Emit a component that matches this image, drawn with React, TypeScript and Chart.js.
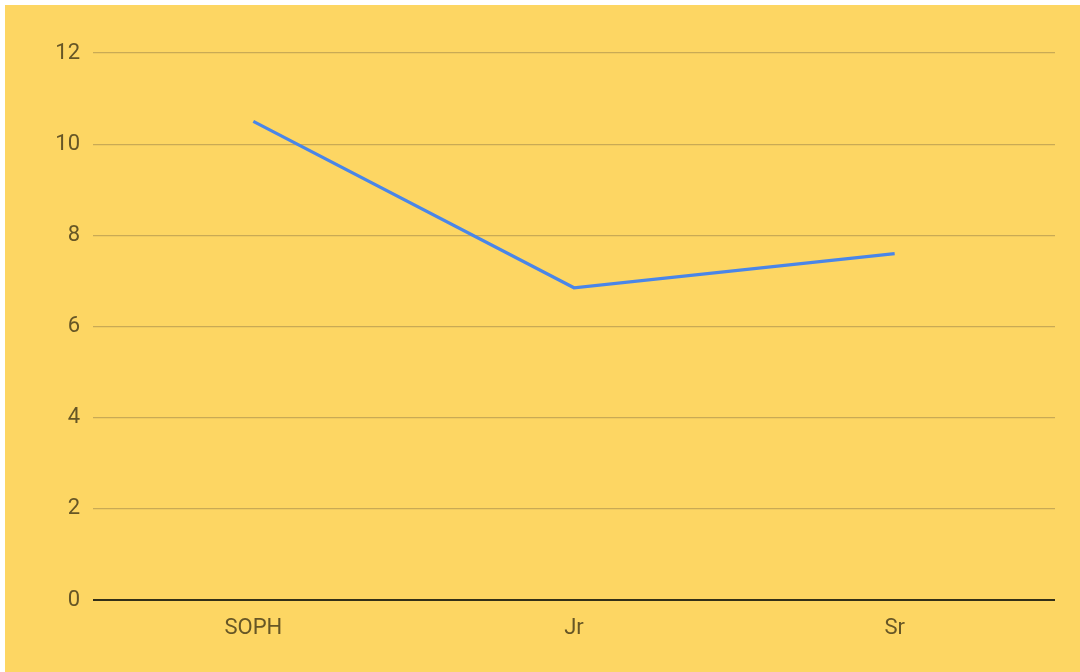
import React, { useEffect, useRef } from "react";
import { Chart, registerables } from "chart.js";

Chart.register(...registerables);

const categories = ["SOPH", "Jr", "Sr"];
const values = [10.5, 6.85, 7.6];
const yTicks = [0, 2, 4, 6, 8, 10, 12];

const bgPlugin = {
  id: "bgFill",
  beforeDraw(chart: any) {
    const { ctx, width, height } = chart;
    ctx.save();
    ctx.fillStyle = "#FDD663";
    ctx.fillRect(0, 0, width, height);
    ctx.restore();
  },
};

export default function App() {
  const ref = useRef<HTMLCanvasElement>(null);
  useEffect(() => {
    document.body.style.margin = "0";
    const chart = new Chart(ref.current!, {
      type: "line",
      data: {
        labels: categories,
        datasets: [
          {
            data: values,
            borderColor: "#4A86E8",
            borderWidth: 3.2,
            pointRadius: 0,
            tension: 0,
            fill: false,
          },
        ],
      },
      options: {
        animation: false,
        responsive: false,
        maintainAspectRatio: false,
        layout: { padding: { top: 48, right: 25, bottom: 0, left: 0 } },
        plugins: { legend: { display: false }, tooltip: { enabled: false } },
        scales: {
          x: {
            offset: true,
            grid: { display: false, drawTicks: false },
            border: { display: false },
            ticks: {
              padding: 15,
              color: "#665626",
              font: { family: "Roboto", size: 22 },
            },
            afterFit: (s: any) => {
              s.height = 72;
            },
          },
          y: {
            min: 0,
            max: 12,
            afterBuildTicks: (s: any) => {
              s.ticks = yTicks.map((v) => ({ value: v }));
            },
            grid: {
              drawTicks: false,
              color: (c: any) => (c.tick && c.tick.value === 0 ? "#333018" : "#C9AA55"),
              lineWidth: (c: any) => (c.tick && c.tick.value === 0 ? 2 : 1.3),
            },
            border: { display: false },
            ticks: {
              padding: 13,
              color: "#665626",
              font: { family: "Roboto", size: 22 },
            },
            afterFit: (s: any) => {
              s.width = 88;
            },
          },
        },
      },
      plugins: [bgPlugin],
    });
    return () => chart.destroy();
  }, []);
  return (
    <div style={{ position: "fixed", left: 0, top: 0, width: 1080, height: 672, background: "#fff" }}>
      <canvas
        ref={ref}
        width={1075}
        height={667}
        style={{ position: "absolute", left: 5, top: 5, width: 1075, height: 667 }}
      />
    </div>
  );
}
